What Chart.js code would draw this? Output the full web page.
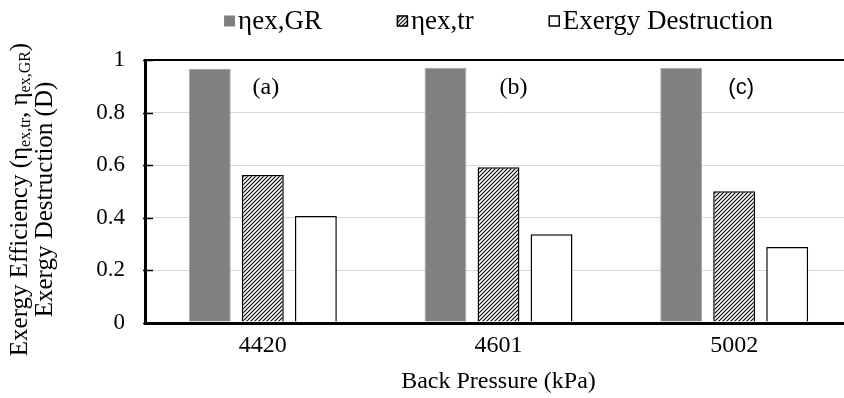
<!DOCTYPE html>
<html lang="en">
<head>
    <meta charset="utf-8">
    <script src="https://cdn.jsdelivr.net/npm/chart.js"></script>
    <title>Exergy vs Back Pressure</title>
    <style>
        html, body { margin: 0; padding: 0; overflow: hidden; background: white; }
        #wrap { width: 852px; height: 398px; }
    </style>
</head>
<body>
    <div id="wrap">
        <canvas id="barChart" width="852" height="398"></canvas>
    </div>
    <script>
        // values
        var categories = ["4420", "4601", "5002"];
        var etaGR = [0.966, 0.971, 0.971];
        var etaTr = [0.563, 0.592, 0.501];
        var destruction = [0.407, 0.337, 0.289];
        var legendLabels = ["ηex,GR", "ηex,tr", "Exergy Destruction"];
        var panelLabels = ["(a)", "(b)", "(c)"];

        var serif = '"Liberation Serif", "Times New Roman", serif';

        // diagonal hatch fill
        function makeHatch() {
            var c = document.createElement("canvas");
            c.width = 4;
            c.height = 4;
            var p = c.getContext("2d");
            p.fillStyle = "white";
            p.fillRect(0, 0, 4, 4);
            p.strokeStyle = "black";
            p.lineWidth = 1.1;
            p.beginPath();
            p.moveTo(0, 4); p.lineTo(4, 0);
            p.moveTo(-1, 1); p.lineTo(1, -1);
            p.moveTo(3, 5); p.lineTo(5, 3);
            p.stroke();
            return p.createPattern(c, "repeat");
        }
        var hatch = makeHatch();

        var extras = {
            id: "extras",
            afterDraw: function(chart) {
                var ctx = chart.ctx;
                var area = chart.chartArea;
                var xs = chart.scales.x;
                var ys = chart.scales.y;

                // inward tick marks on the value axis
                ctx.save();
                ctx.strokeStyle = "black";
                ctx.lineWidth = 1.5;
                ys.ticks.forEach(function(t) {
                    var y = Math.round(ys.getPixelForValue(t.value)) + 0.5;
                    ctx.beginPath();
                    ctx.moveTo(area.left - 2, y);
                    ctx.lineTo(area.left + 8, y);
                    ctx.stroke();
                });
                ctx.restore();

                // panel letters
                var shift = [3, 15, 7];
                ctx.save();
                ctx.fillStyle = "black";
                ctx.textAlign = "center";
                ctx.textBaseline = "middle";
                panelLabels.forEach(function(txt, i) {
                    ctx.font = i === 2 ? '22px "Liberation Sans", Arial, sans-serif' : "24px " + serif;
                    ctx.fillText(txt, xs.getPixelForValue(i) + shift[i], ys.getPixelForValue(0.895));
                });
                ctx.restore();

                // legend
                ctx.save();
                ctx.font = "27px " + serif;
                ctx.textBaseline = "middle";
                var box = 11, gap = 3, itemGap = 75;
                var widths = legendLabels.map(function(t) { return ctx.measureText(t).width; });
                var total = itemGap * (legendLabels.length - 1);
                widths.forEach(function(w) { total += box + gap + w; });
                var x = (area.left + area.right) / 2 - total / 2;
                var ly = 21;
                chart.data.datasets.forEach(function(ds, i) {
                    ctx.fillStyle = ds.backgroundColor;
                    ctx.fillRect(x, ly - box / 2, box, box);
                    if (ds.legendStroke) {
                        ctx.strokeStyle = "black";
                        ctx.lineWidth = 1.5;
                        ctx.strokeRect(x + 0.5, ly - box / 2 + 0.5, box - 1, box - 1);
                    }
                    ctx.fillStyle = "black";
                    ctx.fillText(legendLabels[i], x + box + gap, ly + 1);
                    x += box + gap + widths[i] + itemGap;
                });
                ctx.restore();

                // y axis title, two rotated lines with subscripts
                var cy = (area.top + area.bottom) / 2 + 8;
                var parts = [
                    ["Exergy Efficiency (", false],
                    ["η", false],
                    ["ex,tr", true],
                    [", ", false],
                    ["η", false],
                    ["ex,GR", true],
                    [")", false]
                ];
                var mainFont = "25px " + serif;
                var subFont = "16px " + serif;
                ctx.save();
                ctx.fillStyle = "black";
                ctx.textBaseline = "middle";
                ctx.translate(20, cy);
                ctx.rotate(-Math.PI / 2);
                var len = 0;
                parts.forEach(function(p) {
                    ctx.font = p[1] ? subFont : mainFont;
                    len += ctx.measureText(p[0]).width;
                });
                var px = -len / 2;
                parts.forEach(function(p) {
                    ctx.font = p[1] ? subFont : mainFont;
                    ctx.fillText(p[0], px, p[1] ? 6 : 0);
                    px += ctx.measureText(p[0]).width;
                });
                ctx.restore();

                ctx.save();
                ctx.fillStyle = "black";
                ctx.textAlign = "center";
                ctx.textBaseline = "middle";
                ctx.font = mainFont;
                ctx.translate(45, cy);
                ctx.rotate(-Math.PI / 2);
                ctx.fillText("Exergy Destruction (D)", 0, 0);
                ctx.restore();
            }
        };

        var ctx = document.getElementById("barChart").getContext("2d");
        var chart = new Chart(ctx, {
            type: "bar",
            data: {
                labels: categories,
                datasets: [
                    {
                        label: legendLabels[0],
                        data: etaGR,
                        backgroundColor: "#808080",
                        borderColor: "#a6a6a6",
                        borderWidth: 1
                    },
                    {
                        label: legendLabels[1],
                        data: etaTr,
                        backgroundColor: hatch,
                        borderColor: "black",
                        borderWidth: 1.5,
                        legendStroke: true
                    },
                    {
                        label: legendLabels[2],
                        data: destruction,
                        backgroundColor: "white",
                        borderColor: "black",
                        borderWidth: 1.5,
                        legendStroke: true
                    }
                ]
            },
            options: {
                responsive: false,
                animation: false,
                layout: { padding: { top: 60, left: 0, right: 0, bottom: 0 } },
                categoryPercentage: 0.675,
                barPercentage: 0.79,
                plugins: {
                    legend: { display: false },
                    tooltip: { enabled: false }
                },
                scales: {
                    x: {
                        grid: { display: false, drawTicks: false },
                        border: { display: true, color: "black", width: 3 },
                        ticks: {
                            color: "black",
                            padding: 8,
                            font: { family: serif, size: 24 }
                        },
                        title: {
                            display: true,
                            text: "Back Pressure (kPa)",
                            color: "black",
                            padding: 2,
                            font: { family: serif, size: 24 }
                        },
                        afterFit: function(scale) { scale.height = 75; }
                    },
                    y: {
                        min: 0,
                        max: 1,
                        ticks: {
                            stepSize: 0.2,
                            color: "black",
                            padding: 20,
                            font: { family: serif, size: 23 },
                            callback: function(v) { return String(+v.toFixed(1)); }
                        },
                        grid: {
                            drawTicks: false,
                            color: function(c) {
                                var v = c.tick ? +c.tick.value.toFixed(1) : 0;
                                return (v === 0 || v === 1) ? "black" : "#d9d9d9";
                            },
                            lineWidth: function(c) {
                                var v = c.tick ? +c.tick.value.toFixed(1) : 0;
                                return v === 1 ? 2 : (v === 0 ? 3 : 1);
                            }
                        },
                        border: { display: true, color: "black", width: 3 },
                        afterFit: function(scale) { scale.width = 145; }
                    }
                }
            },
            plugins: [extras]
        });
    </script>
</body>
</html>
